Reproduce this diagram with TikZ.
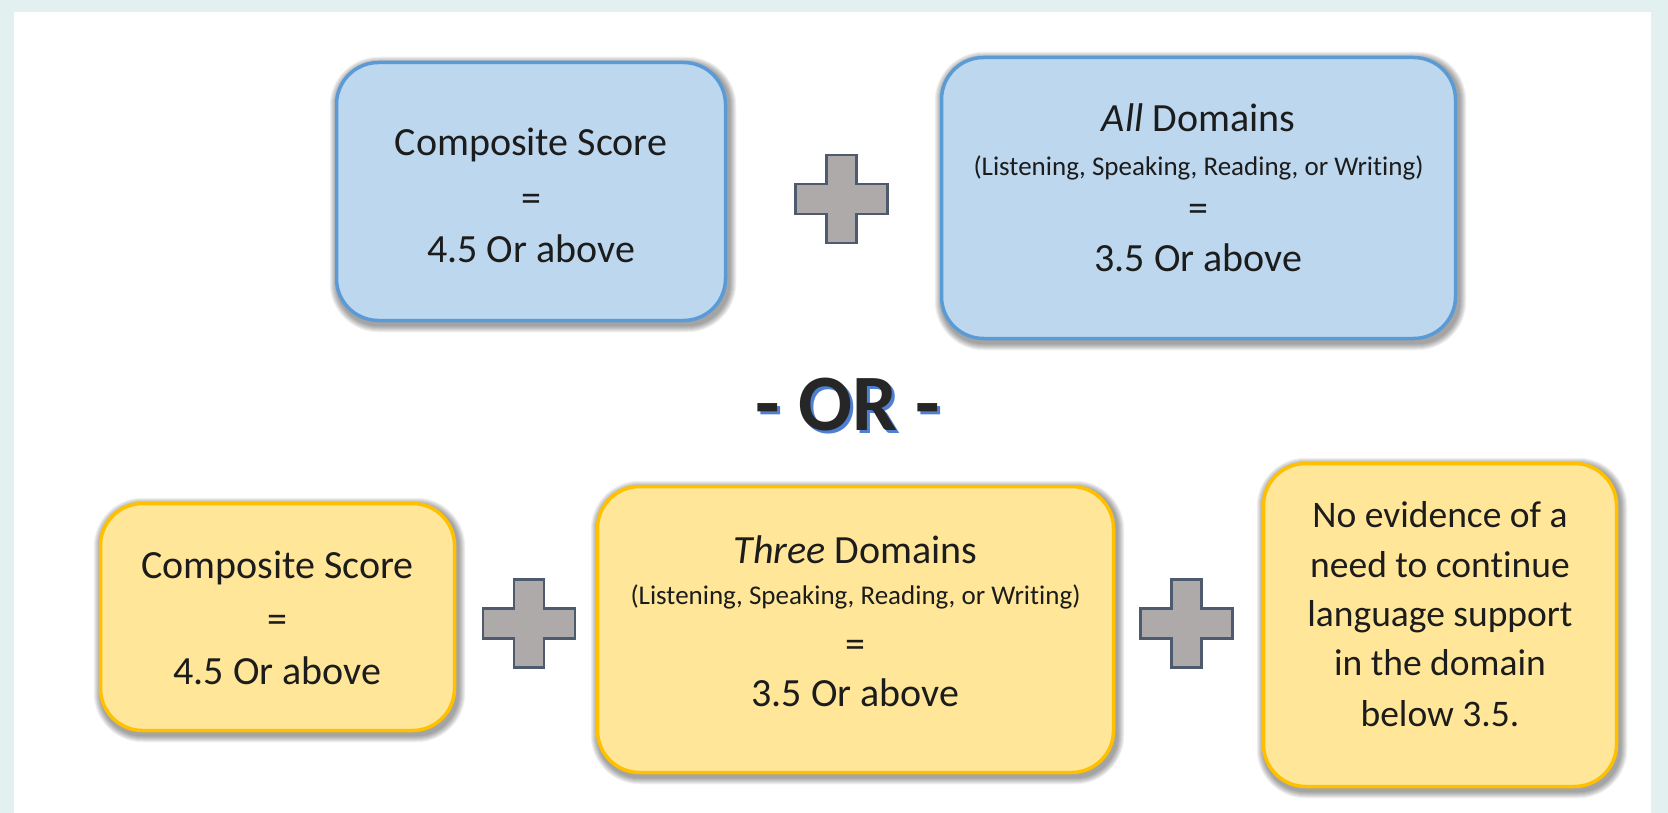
\documentclass[tikz,border=0pt]{standalone}
\usepackage{fontspec}
\setmainfont{Carlito}[Ligatures=NoCommon]
\usetikzlibrary{calc}
\definecolor{bgteal}{HTML}{E2F0EF}
\definecolor{bluefill}{HTML}{BDD7EE}
\definecolor{blueline}{HTML}{5B9BD5}
\definecolor{yelfill}{HTML}{FFE699}
\definecolor{yelline}{HTML}{FFC000}
\definecolor{plusfill}{HTML}{AEAAAA}
\definecolor{plusline}{HTML}{4E5B6E}
\definecolor{txt}{HTML}{1C1C1C}
\definecolor{ortext}{HTML}{262626}
\definecolor{orshadow}{HTML}{4F7FD0}
\pgfdeclarelayer{back}
\pgfdeclarelayer{shade}
\pgfsetlayers{back,shade,main}
\begin{document}
\begin{tikzpicture}[x=1pt,y=-1pt,
  boxbase/.style={draw, line width=3.5pt, rounded corners=42pt, inner sep=0pt},
  bluebox/.style={boxbase, fill=bluefill, draw=blueline},
  yelbox/.style={boxbase, fill=yelfill, draw=yelline},
  txtline/.style={anchor=base, inner sep=0pt, text=txt, font=\fontsize{40}{48}\selectfont},
  smallline/.style={txtline, font=\fontsize{27}{32}\selectfont},
  midline/.style={txtline, font=\fontsize{37.5}{45}\selectfont},
  ortxt/.style={anchor=base, inner sep=0pt, font=\fontsize{80}{90}\selectfont\bfseries},
  plussign/.pic={\draw[fill=plusfill, draw=plusline, line width=2.2pt, line join=miter]
    (-46,-15) -- (-15,-15) -- (-15,-44) -- (15,-44) -- (15,-15) -- (46,-15) -- (46,15)
    -- (15,15) -- (15,44) -- (-15,44) -- (-15,15) -- (-46,15) -- cycle;}
]
\useasboundingbox (0,0) rectangle (1668,813);
\begin{pgfonlayer}{back}
  \fill[bgteal] (0,0) rectangle (1668,813);
  \fill[white] (14,12) rectangle (1651,813);
\end{pgfonlayer}

% boxes
\node[bluebox, minimum width=389, minimum height=258] (b1) at (531,191.5) {};
\node[bluebox, minimum width=514, minimum height=281] (b2) at (1198.5,198) {};
\node[yelbox, minimum width=354, minimum height=227] (b3) at (277.5,617) {};
\node[yelbox, minimum width=516, minimum height=286] (b4) at (855.5,629.5) {};
\node[yelbox, minimum width=353, minimum height=323] (b5) at (1440,625) {};

% soft shadows
\begin{pgfonlayer}{shade}
\foreach \n in {b1,b2,b3,b4,b5}{
  \foreach \k in {1,...,7}{
    \pgfmathsetmacro\rr{42+\k}
    \fill[black, opacity=0.06, rounded corners=\rr pt]
      ([shift={(2-\k,3-\k)}]\n.north west) rectangle ([shift={(2+\k,3+\k)}]\n.south east);
  }
}
\end{pgfonlayer}

% plus signs
\pic (p1) at (841.5,199) {plussign};
\pic (p2) at (529,623.5) {plussign};
\pic (p3) at (1186.5,623.5) {plussign};

% box 1
\node[txtline] (t1a) at (531,156) {Composite Score};
\node[txtline] (t1b) at (531,212) {=};
\node[txtline] (t1c) at (531,262) {4.5 Or above};
% box 2
\node[txtline] (t2a) at (1198.5,132) {\textit{All} Domains};
\node[smallline] (t2b) at (1198.5,176) {(Listening, Speaking, Reading, or Writing)};
\node[txtline] (t2c) at (1198.5,222) {=};
\node[txtline] (t2d) at (1198.5,272) {3.5 Or above};
% OR
\node[ortxt, text=orshadow] (orsh) at (851,433) {- OR -};
\node[ortxt, text=ortext] (or) at (848,430) {- OR -};
% box 3
\node[txtline] (t3a) at (277.5,578) {Composite Score};
\node[txtline] (t3b) at (277.5,632) {=};
\node[txtline] (t3c) at (277.5,684) {4.5 Or above};
% box 4
\node[txtline] (t4a) at (855.5,563) {\textit{Three} Domains};
\node[smallline] (t4b) at (855.5,604) {(Listening, Speaking, Reading, or Writing)};
\node[txtline] (t4c) at (855.5,657) {=};
\node[txtline] (t4d) at (855.5,706) {3.5 Or above};
% box 5
\node[midline] (t5a) at (1440,527) {No evidence of a};
\node[midline] (t5b) at (1440,577) {need to continue};
\node[midline] (t5c) at (1440,626) {language support};
\node[midline] (t5d) at (1440,675) {in the domain};
\node[midline] (t5e) at (1440,726) {below 3.5.};
\end{tikzpicture}
\end{document}
